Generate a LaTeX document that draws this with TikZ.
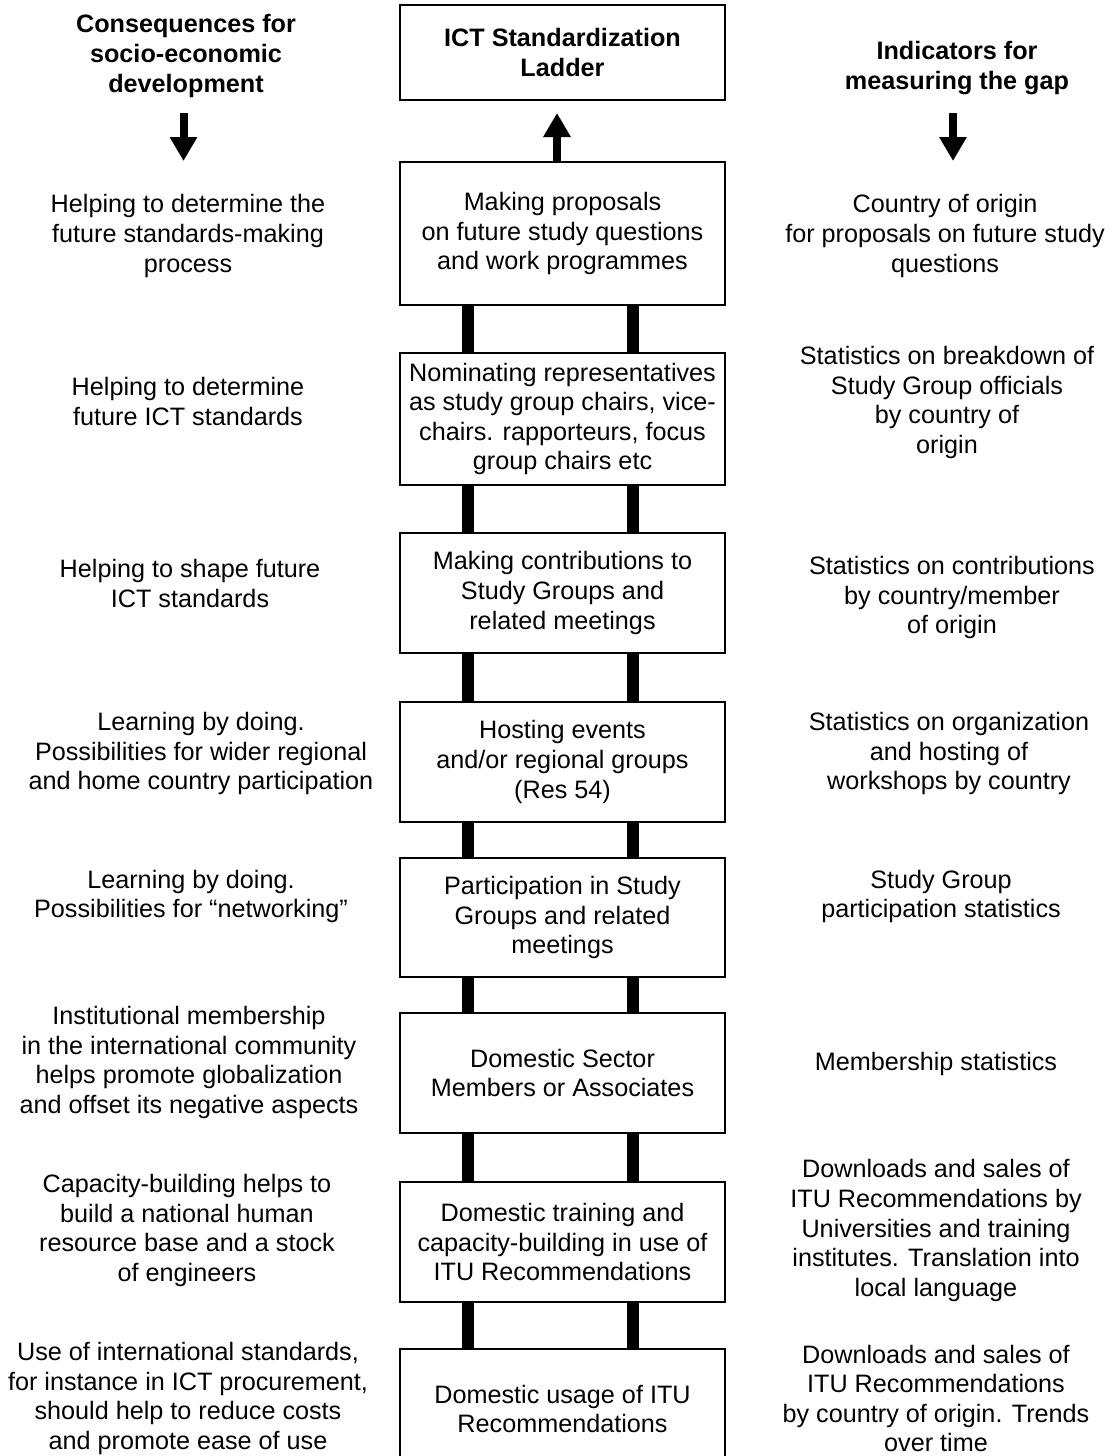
\documentclass[tikz,border=0pt]{standalone}
\usepackage{fontspec}
\setmainfont{Liberation Sans}
\usetikzlibrary{arrows.meta}
\def\ladderfont{\fontsize{12.6pt}{14.8pt}\selectfont}
\tikzset{
  rung/.style={draw,line width=0.8pt,minimum width=162.5pt,align=center,inner sep=0pt},
  side/.style={align=center,inner sep=0pt},
  headline/.style={align=center,inner sep=0pt,font=\ladderfont\bfseries},
  bigarrow/.style={line width=4pt,-{Triangle[length=12pt,width=13pt]}},
  rail/.style={line width=6pt},
}
\def\rails#1#2{
  % 1: upper rung
  % 2: lower rung
  \draw[rail] (#1.south -| lrail) -- (#2.north -| lrail);
  \draw[rail] (#1.south -| rrail) -- (#2.north -| rrail);
}
\begin{document}
\begin{tikzpicture}[x=0.5pt,y=-0.5pt,font=\ladderfont]
    \path[use as bounding box,fill=white] (0,0) rectangle (1114,1456);
    \coordinate (lrail) at (468,0);
    \coordinate (rrail) at (633,0);

    % headings
    \node[headline] (hl) at (186,56) {Consequences for\\socio-economic\\development};
    \node[headline] (hr) at (957,68) {Indicators for\\measuring the gap};
    \node[rung,minimum height=47.5pt,font=\ladderfont\bfseries] (b0) at (562.5,52.5) {ICT Standardization\\Ladder};

    % the ladder
    \node[rung,minimum height=71.5pt] (b1) at (562.5,233.5) {Making proposals\\on future study questions\\and work programmes};
    \node[rung,minimum height=66pt]   (b2) at (562.5,419)   {Nominating representatives\\as study group chairs, vice-\\chairs. rapporteurs, focus\\group chairs etc};
    \node[rung,minimum height=60pt]   (b3) at (562.5,593)   {Making contributions to\\Study Groups and\\related meetings};
    \node[rung,minimum height=60pt]   (b4) at (562.5,762)   {Hosting events\\and/or regional groups\\(Res 54)};
    \node[rung,minimum height=59.5pt] (b5) at (562.5,917.5) {Participation in Study\\Groups and related\\meetings};
    \node[rung,minimum height=60pt]   (b6) at (562.5,1073)  {Domestic Sector\\Members or Associates};
    \node[rung,minimum height=60pt]   (b7) at (562.5,1242)  {Domestic training and\\capacity-building in use of\\ITU Recommendations};
    \node[rung,minimum height=60pt]   (b8) at (562.5,1409)  {Domestic usage of ITU\\Recommendations};
    \rails{b1}{b2} \rails{b2}{b3} \rails{b3}{b4} \rails{b4}{b5}
    \rails{b5}{b6} \rails{b6}{b7} \rails{b7}{b8}

    % consequences
    \node[side] (l1) at (188,236)    {Helping to determine the\\future standards-making\\process};
    \node[side] (l2) at (188,401.5)  {Helping to determine\\future ICT standards};
    \node[side] (l3) at (190,583.5)  {Helping to shape future\\ICT standards};
    \node[side] (l4) at (201,753.5)  {Learning by doing.\\Possibilities for wider regional\\and home country participation};
    \node[side] (l5) at (191,896.5)  {Learning by doing.\\Possibilities for “networking”};
    \node[side] (l6) at (189,1062.5) {Institutional membership\\in the international community\\helps promote globalization\\and offset its negative aspects};
    \node[side] (l7) at (187,1230.5) {Capacity-building helps to\\build a national human\\resource base and a stock\\of engineers};
    \node[side] (l8) at (188,1398.5) {Use of international standards,\\for instance in ICT procurement,\\should help to reduce costs\\and promote ease of use};

    % indicators
    \node[side] (r1) at (945,236)    {Country of origin\\for proposals on future study\\questions};
    \node[side] (r2) at (947,402.5)  {Statistics on breakdown of\\Study Group officials\\by country of\\origin};
    \node[side] (r3) at (952,597.5)  {Statistics on contributions\\by country/member\\of origin};
    \node[side] (r4) at (949,753.5)  {Statistics on organization\\and hosting of\\workshops by country};
    \node[side] (r5) at (941,896.5)  {Study Group\\participation statistics};
    \node[side] (r6) at (936,1063.5) {Membership statistics};
    \node[side] (r7) at (936,1230.5) {Downloads and sales of\\ITU Recommendations by\\Universities and training\\institutes. Translation into\\local language};
    \node[side] (r8) at (936,1398.5) {Downloads and sales of\\ITU Recommendations\\by country of origin. Trends\\over time};

    % arrows
    \coordinate (uptip) at (557,113);
    \coordinate (ltop) at (183.5,113);
    \coordinate (ltip) at (183.5,161);
    \coordinate (rtop) at (953,113);
    \coordinate (rtip) at (953,161);
    \draw[bigarrow] (b1.north -| uptip) -- (uptip);
    \draw[bigarrow] (ltop) -- (ltip);
    \draw[bigarrow] (rtop) -- (rtip);
\end{tikzpicture}
\end{document}
